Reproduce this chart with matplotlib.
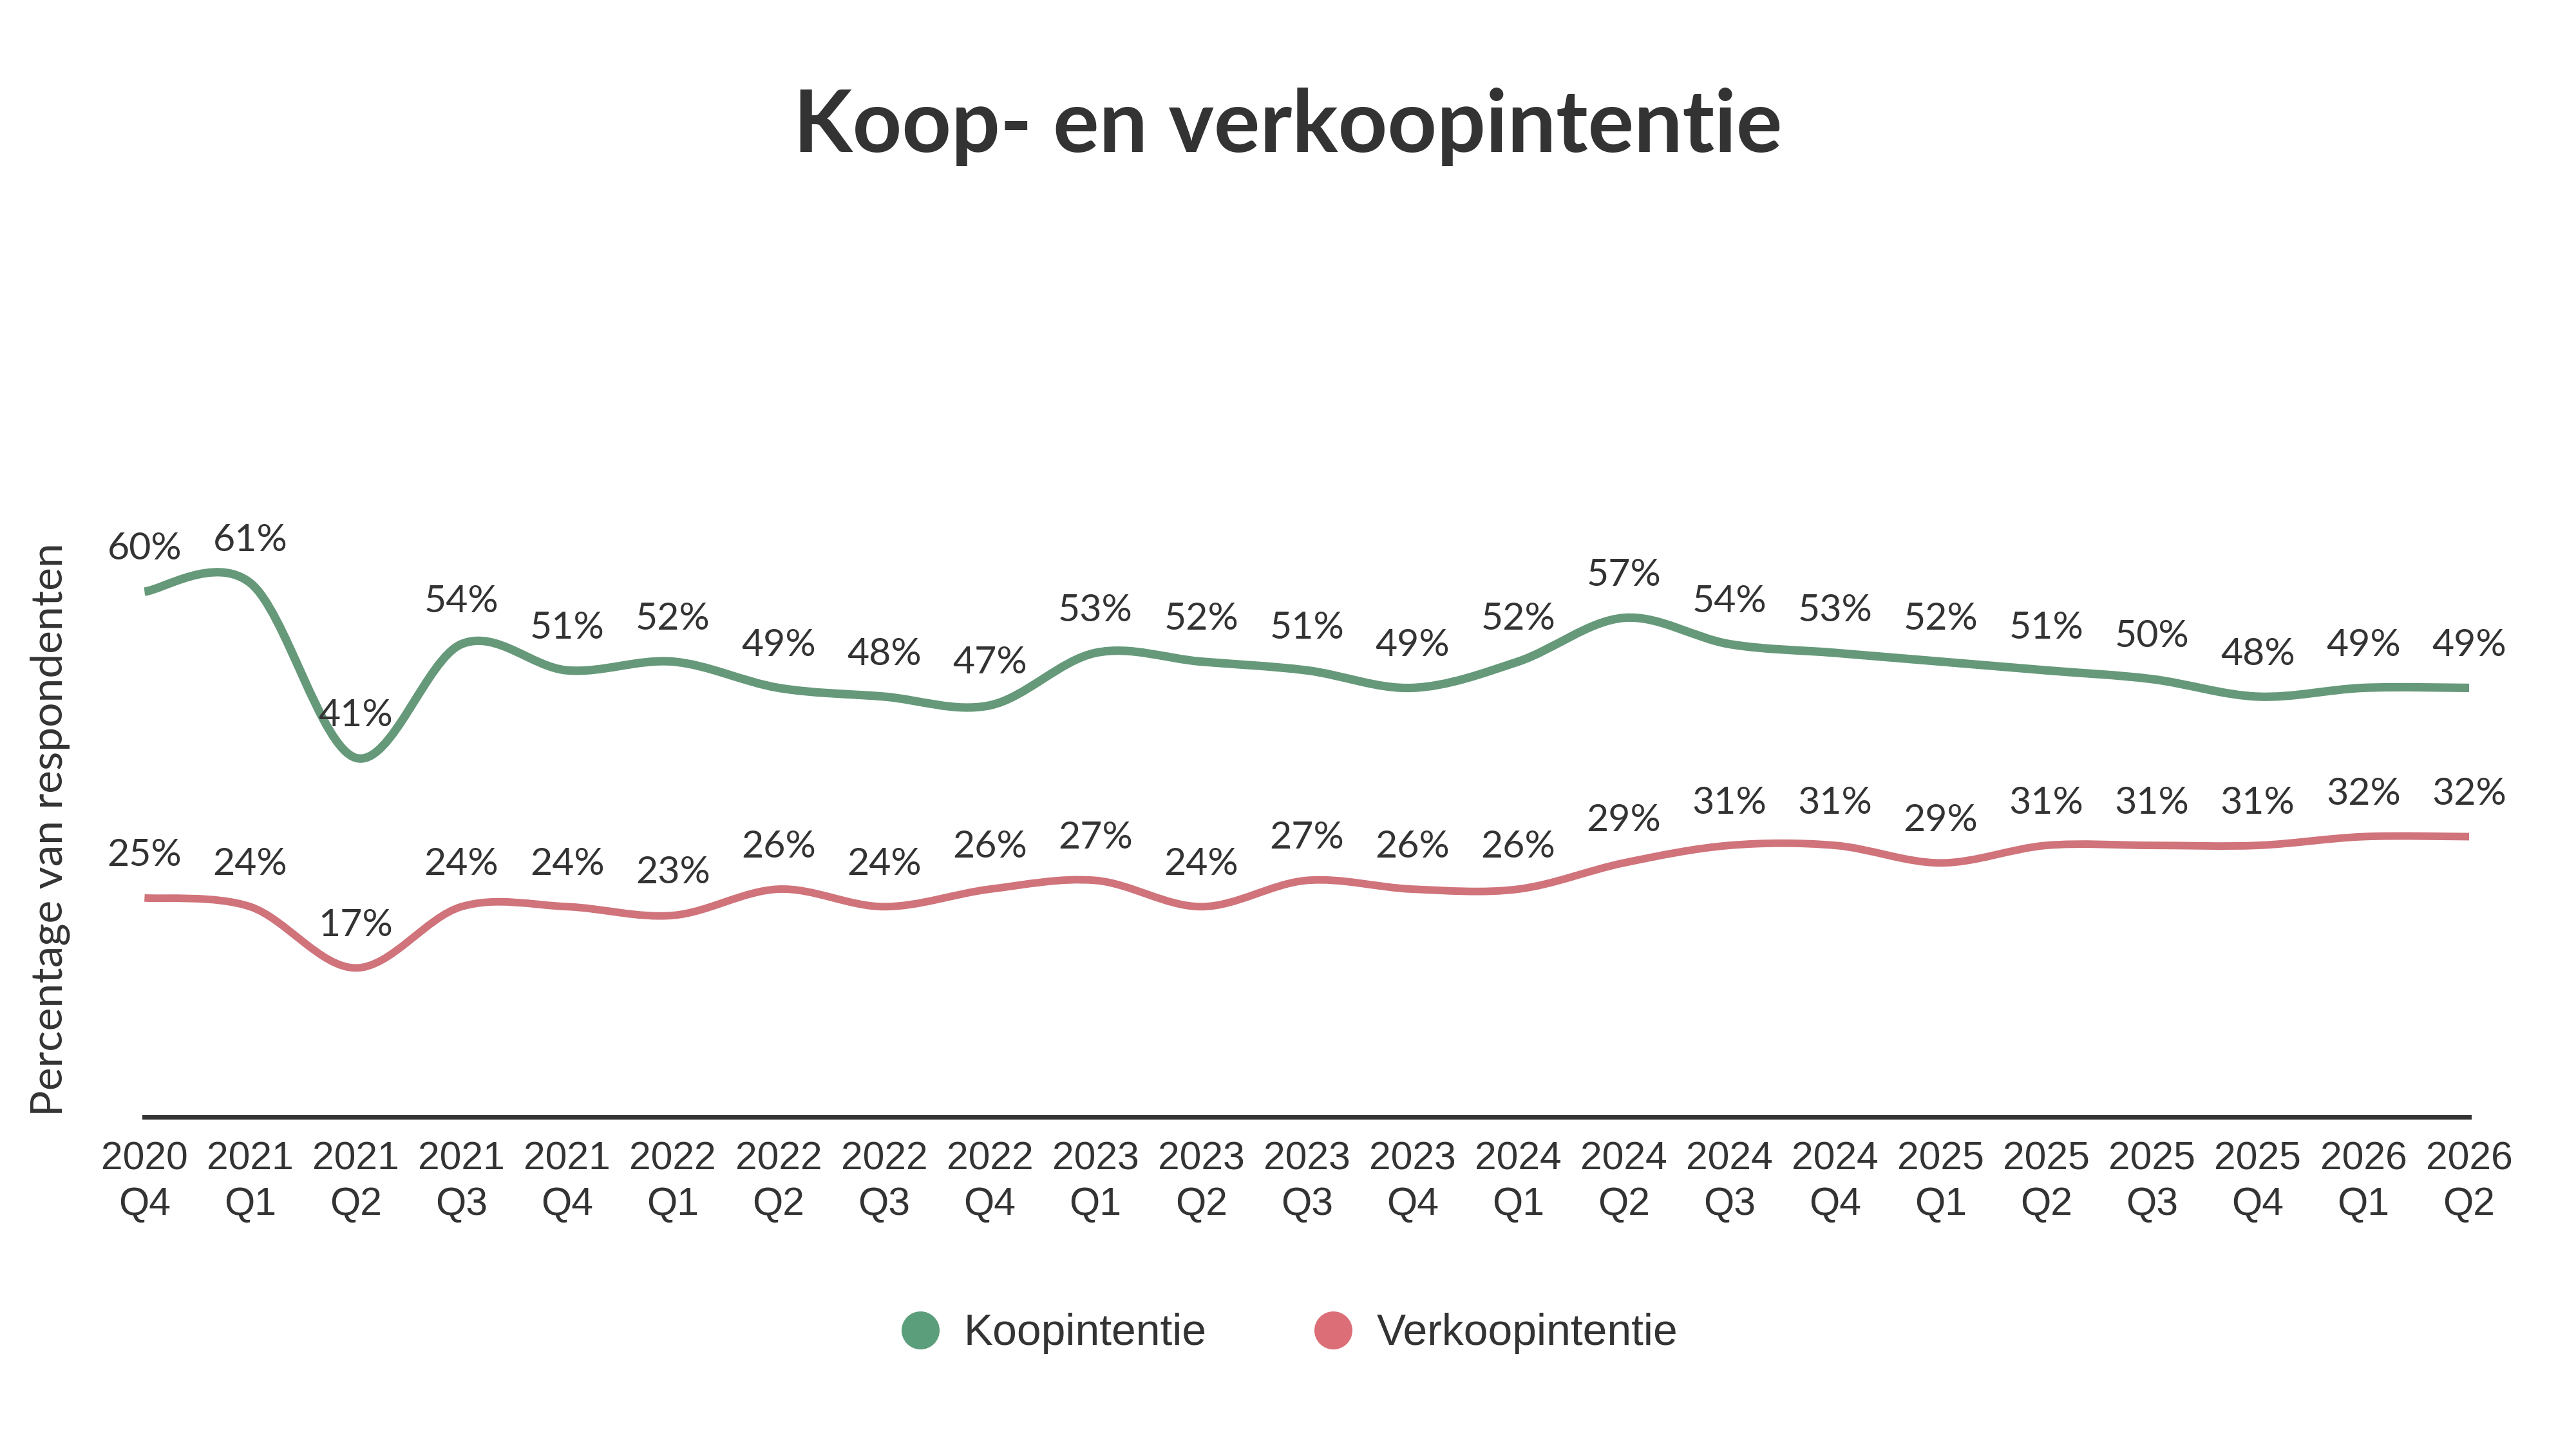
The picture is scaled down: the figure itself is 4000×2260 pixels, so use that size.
import numpy as np
import matplotlib.pyplot as plt
from matplotlib.path import Path
from matplotlib.patches import PathPatch
from matplotlib.lines import Line2D

quarters = ["2020\nQ4", "2021\nQ1", "2021\nQ2", "2021\nQ3", "2021\nQ4",
            "2022\nQ1", "2022\nQ2", "2022\nQ3", "2022\nQ4",
            "2023\nQ1", "2023\nQ2", "2023\nQ3", "2023\nQ4",
            "2024\nQ1", "2024\nQ2", "2024\nQ3", "2024\nQ4",
            "2025\nQ1", "2025\nQ2", "2025\nQ3", "2025\nQ4",
            "2026\nQ1", "2026\nQ2"]
koop = [60, 61, 41, 54, 51, 52, 49, 48, 47, 53, 52, 51, 49, 52, 57, 54, 53, 52, 51, 50, 48, 49, 49]
verkoop = [25, 24, 17, 24, 24, 23, 26, 24, 26, 27, 24, 27, 26, 26, 29, 31, 31, 29, 31, 31, 31, 32, 32]

GREEN = "#66997a"
GREEN_DOT = "#5a9e7c"
RED = "#d0737a"
RED_DOT = "#dc6e78"
TXT = "#333333"


def smooth_path(x, y):
    # catmull-rom through the points, written as cubic beziers
    n = len(x)
    pts = np.column_stack([x, y]).astype(float)
    padded = np.vstack([pts[0], pts, pts[-1]])
    verts = [tuple(pts[0])]
    codes = [Path.MOVETO]
    for i in range(n - 1):
        p0, p1, p2, p3 = padded[i], padded[i + 1], padded[i + 2], padded[i + 3]
        c1 = p1 + (p2 - p0) / 6
        c2 = p2 - (p3 - p1) / 6
        verts += [tuple(c1), tuple(c2), tuple(p2)]
        codes += [Path.CURVE4] * 3
    return Path(verts, codes)


fig = plt.figure(figsize=(16, 9.04), dpi=250)
ax = fig.add_axes([0.0561, 0.2325, 0.9024, 0.397])
x = np.arange(len(quarters))

for vals, col, lw in [(koop, GREEN, 3.8), (verkoop, RED, 3.4)]:
    p = smooth_path(x, vals)
    ax.add_patch(PathPatch(p, facecolor="none", edgecolor=col, lw=lw,
                           capstyle="butt", joinstyle="round", clip_on=False))
    for xi, v in zip(x, vals):
        ax.annotate(f"{v}%", (xi, v), xytext=(0, 19), textcoords="offset points",
                    ha="center", va="center", fontsize=17, color=TXT,
                    family="Lato", clip_on=False)

ax.set_xlim(0, len(quarters) - 1)
ax.set_ylim(0, 66)
ax.set_yticks([])
ax.set_xticks(x)
ax.set_xticklabels(quarters, family="Liberation Sans", fontsize=17.5, color=TXT,
                   linespacing=1.3)
ax.tick_params(axis="x", length=0, pad=11)
for s in ["top", "right", "left"]:
    ax.spines[s].set_visible(False)
ax.spines["bottom"].set_color(TXT)
ax.spines["bottom"].set_linewidth(2)

fig.text(0.0195, 0.430, "Percentage van respondenten", rotation=90,
         ha="center", va="center", fontsize=19.5, color=TXT, family="Lato")
fig.text(0.5, 0.913, "Koop- en verkoopintentie", ha="center", va="center",
         fontsize=38.5, fontweight="bold", color=TXT, family="Lato")

handles = [Line2D([], [], ls="none", marker="o", ms=16, color=GREEN_DOT),
           Line2D([], [], ls="none", marker="o", ms=16, color=RED_DOT)]
fig.legend(handles, ["Koopintentie", "Verkoopintentie"], loc="center",
           bbox_to_anchor=(0.5, 0.0835), ncol=2, frameon=False,
           prop={"family": "Liberation Sans", "size": 19.5},
           handlelength=1.0, handletextpad=0.5, columnspacing=2.4,
           labelcolor=TXT)

fig.savefig("out.png", dpi=250)
